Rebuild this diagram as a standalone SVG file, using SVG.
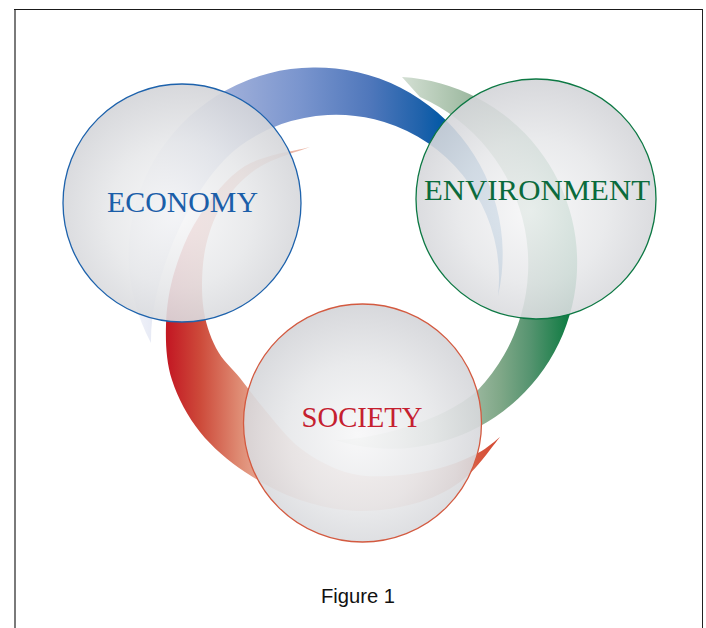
<svg xmlns="http://www.w3.org/2000/svg" width="706" height="628" viewBox="0 0 706 628">
<style>
.node circle{fill:url(#glass);fill-opacity:0.9;stroke-width:1.3}
.lbl{font-family:"Liberation Serif","Times New Roman",serif;font-size:30px;text-anchor:middle}
.cap{font-family:"Liberation Sans",Arial,sans-serif;font-size:20px;text-anchor:middle;fill:#111}
</style>
<defs>
<radialGradient id="glass" cx="0.5" cy="0.55" r="0.55" fx="0.48" fy="0.55">
<stop offset="0" stop-color="#f7f7f8"/>
<stop offset="0.55" stop-color="#e7e8ea"/>
<stop offset="1" stop-color="#d3d4d8"/>
</radialGradient>
<linearGradient id="gBlue" gradientUnits="userSpaceOnUse" x1="140" y1="0" x2="500" y2="0">
<stop offset="0" stop-color="#eef0f8"/>
<stop offset="0.06" stop-color="#e2e6f3"/>
<stop offset="0.25" stop-color="#9eaed9"/>
<stop offset="0.444" stop-color="#7a95ce"/>
<stop offset="0.64" stop-color="#4f77bb"/>
<stop offset="0.78" stop-color="#1f62ab"/>
<stop offset="0.847" stop-color="#0058a6"/>
<stop offset="1" stop-color="#0058a6"/>
</linearGradient>
<linearGradient id="gGreen" gradientUnits="userSpaceOnUse" x1="335" y1="0" x2="580" y2="0">
<stop offset="0" stop-color="#e2e9e2"/>
<stop offset="0.265" stop-color="#d5e0d5"/>
<stop offset="0.43" stop-color="#b5cab6"/>
<stop offset="0.57" stop-color="#9ab79e"/>
<stop offset="0.673" stop-color="#80a888"/>
<stop offset="0.796" stop-color="#569470"/>
<stop offset="0.918" stop-color="#20814d"/>
<stop offset="0.98" stop-color="#007a3d"/>
<stop offset="1" stop-color="#007a3d"/>
</linearGradient>
<linearGradient id="gRed" gradientUnits="userSpaceOnUse" x1="160" y1="0" x2="500" y2="0">
<stop offset="0" stop-color="#c0141f"/>
<stop offset="0.03" stop-color="#c41c25"/>
<stop offset="0.118" stop-color="#cd4a3a"/>
<stop offset="0.235" stop-color="#df8c74"/>
<stop offset="0.3" stop-color="#e8a995"/>
<stop offset="0.47" stop-color="#eec3b6"/>
<stop offset="0.706" stop-color="#eec0b3"/>
<stop offset="0.868" stop-color="#e39a88"/>
<stop offset="0.935" stop-color="#d8583f"/>
<stop offset="1" stop-color="#d44a33"/>
</linearGradient>
</defs>
<rect width="706" height="628" fill="#ffffff"/>
<g id="frame" fill="none">
<line x1="15" y1="9" x2="15" y2="628" stroke="#7a7a7a" stroke-width="2"/>
<line x1="14" y1="9.5" x2="703" y2="9.5" stroke="#1a1a1a" stroke-width="1"/>
<line x1="702.5" y1="9" x2="702.5" y2="628" stroke="#222222" stroke-width="1"/>
</g>
<g id="connectors">
<path id="arc-blue" fill="url(#gBlue)" d="M151,343 A187,187 0 1 1 498,296 A163,163 0 0 0 240,146 C196,178 150,272 151,343 Z"/>
<path id="arc-green" fill="url(#gGreen)" d="M402,77 A186,186 0 1 1 335,440 C360,441 440,425 478,390 A183,183 0 0 0 420,97 Q410,86 402,77 Z"/>
<path id="arc-red" fill="url(#gRed)" d="M310,147 C299.2,150.2 263.3,154.7 245,166 C226.7,177.3 211.7,197.7 200,215 C188.3,232.3 180.7,251.7 175,270 C169.3,288.3 166.5,306.7 166,325 C165.5,343.3 166.3,362.2 172,380 C177.7,397.8 187.8,416.7 200,432 C212.2,447.3 228.3,460.7 245,472 C261.7,483.3 280.8,493.5 300,500 C319.2,506.5 340,510.7 360,511 C380,511.3 402.5,507.5 420,502 C437.5,496.5 451.7,488.8 465,478 C478.3,467.2 494.2,443.8 500,437 C496.3,439.7 488,447.8 478,453 C468,458.2 454.7,464.2 440,468 C425.3,471.8 405.8,475.3 390,476 C374.2,476.7 360,476.7 345,472 C330,467.3 313.3,458.3 300,448 C286.7,437.7 275,421.7 265,410 C255,398.3 248.2,388.3 240,378 C231.8,367.7 222.2,360.2 216,348 C209.8,335.8 204.8,321.3 203,305 C201.2,288.7 201.8,266.7 205,250 C208.3,234.2 213.2,218.7 222,205 C230.8,191.3 243.3,177.7 258,168 C272.7,158.3 301.3,150.5 310,147 Z"/>
</g>
<g id="economy" class="node">
<circle cx="182" cy="203" r="119" stroke="#1d62ac"/>
<text class="lbl" x="182.5" y="212" fill="#1b5ea9" textLength="151" lengthAdjust="spacingAndGlyphs">ECONOMY</text>
</g>
<g id="environment" class="node">
<circle cx="536" cy="199" r="120" stroke="#0c7843"/>
<text class="lbl" x="537" y="200" fill="#0b6b3c" textLength="226" lengthAdjust="spacingAndGlyphs">ENVIRONMENT</text>
</g>
<g id="society" class="node">
<circle cx="362.5" cy="423" r="119" stroke="#d35a40"/>
<text class="lbl" x="362" y="427" fill="#c5202f" textLength="121" lengthAdjust="spacingAndGlyphs">SOCIETY</text>
</g>
<text class="cap" x="358" y="603" textLength="74" lengthAdjust="spacingAndGlyphs">Figure 1</text>
</svg>
